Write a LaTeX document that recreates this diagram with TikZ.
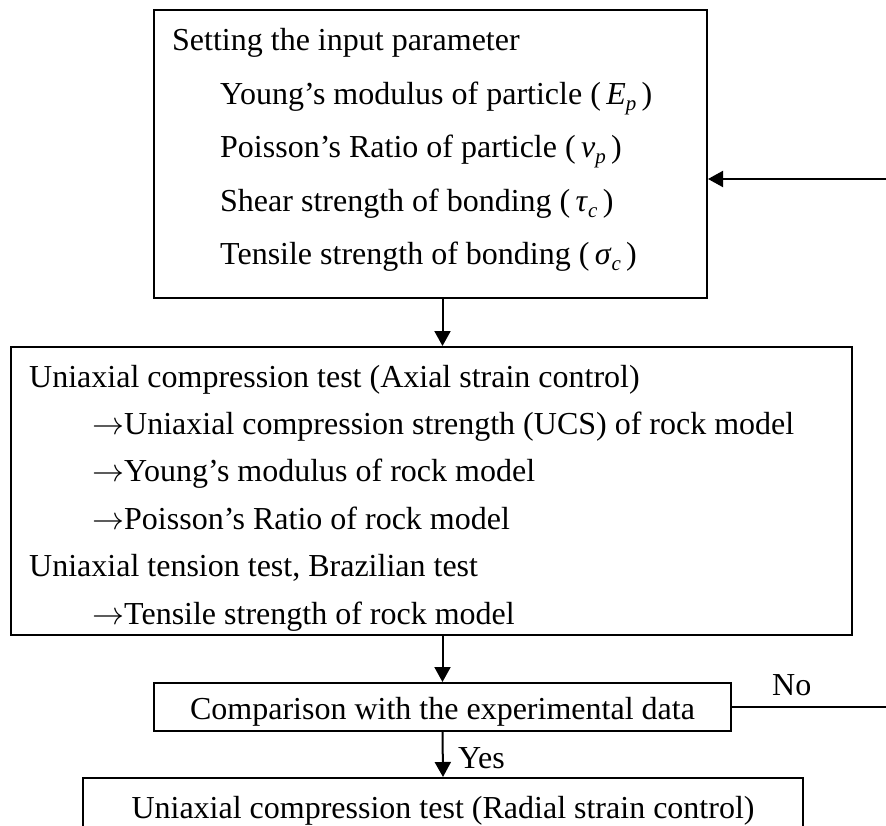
\RequirePackage{fix-cm}
\documentclass[tikz,border=0pt]{standalone}
\usepackage{fontspec}
\setmainfont{Liberation Serif}
\usetikzlibrary{arrows.meta}
\tikzset{
  boxnode/.style={draw, line width=2pt, rectangle, inner sep=0pt},
  txt/.style={anchor=base west, inner sep=0pt, font=\fontsize{32}{38}\selectfont},
  ctxt/.style={anchor=base, inner sep=0pt, font=\fontsize{32}{38}\selectfont},
  conn/.style={line width=2pt},
  arr/.style={line width=2pt, -{Triangle[length=15pt,width=16pt]}}
}
\newcommand{\sub}[1]{\raisebox{-6pt}{\fontsize{21}{21}\selectfont\textit{#1}}}
\newcommand{\rarr}{{\fontsize{32}{38}\selectfont$\rightarrow$}}
\begin{document}
\begin{tikzpicture}[x=1pt, y=-1pt]
\useasboundingbox (0,0) rectangle (886,826);
% boxes
\node[boxnode, minimum width=553pt, minimum height=288pt] (b1) at (430.5,154) {};
\node[boxnode, minimum width=841pt, minimum height=288pt] (b2) at (431.5,491) {};
\node[boxnode, minimum width=577pt, minimum height=48pt] (b3) at (442.5,707) {};
\node[boxnode, minimum width=720pt, minimum height=80pt] (b4) at (443,818) {};
% box 1 text
\node[txt] (t11) at (172,51) {Setting the input parameter};
\node[txt] (t12) at (220,104.5) {Young’s modulus of particle (\,\textit{E}\sub{p}\,)};
\node[txt] (t13) at (220,158) {Poisson’s Ratio of particle (\,\textit{ν}\sub{p}\,)};
\node[txt] (t14) at (220,211.5) {Shear strength of bonding (\,\textit{τ}\sub{c}\,)};
\node[txt] (t15) at (220,265) {Tensile strength of bonding (\,\textit{σ}\sub{c}\,)};
% box 2 text
\node[txt] (t21) at (29,387) {Uniaxial compression test (Axial strain control)};
\node[txt] (t22) at (92,434.4) {\rarr Uniaxial compression strength (UCS) of rock model};
\node[txt] (t23) at (92,481.8) {\rarr Young’s modulus of rock model};
\node[txt] (t24) at (92,529.2) {\rarr Poisson’s Ratio of rock model};
\node[txt] (t25) at (29,576.6) {Uniaxial tension test, Brazilian test};
\node[txt] (t26) at (92,624) {\rarr Tensile strength of rock model};
% box 3 / 4 text
\node[ctxt] (t31) at (442.5,719) {Comparison with the experimental data};
\node[ctxt] (t41) at (443,818) {Uniaxial compression test (Radial strain control)};
% connectors
\draw[arr] (b1.south -| b3.north) -- (b2.north -| b3.north);
\draw[arr] (b2.south -| b3.north) -- (b3.north);
\draw[arr] (b3.south) -- (b4.north);
\coordinate (nr) at (892,707);
\coordinate (fr) at (892,179);
\draw[conn] (b3.east) -- (nr) -- (fr);
\draw[arr] (fr) -- (fr -| b1.east);
% labels
\node[txt] (yes) at (458,768) {Yes};
\node[txt] (no) at (772,695) {No};
\end{tikzpicture}
\end{document}
